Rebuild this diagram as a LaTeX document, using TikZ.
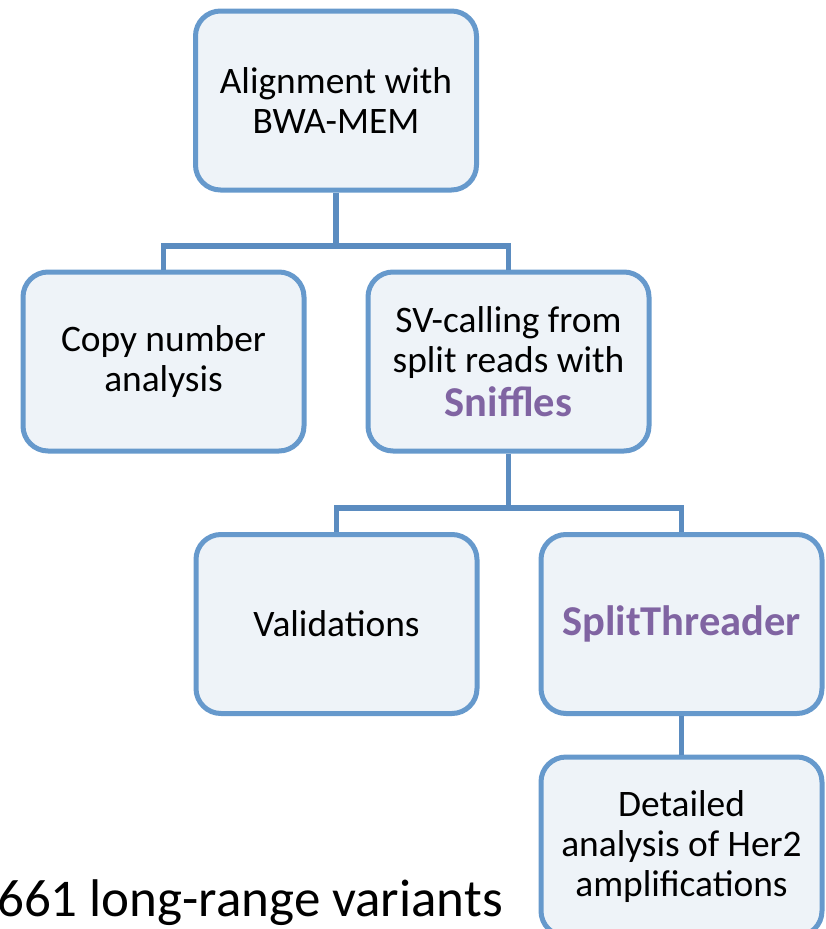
\documentclass[tikz,border=0pt]{standalone}
\usepackage{fontspec}
\setmainfont{Carlito}
\definecolor{boxborder}{HTML}{6699CC}
\definecolor{boxfill}{HTML}{EEF3F8}
\definecolor{connblue}{HTML}{5B8CC0}
\definecolor{toolpurple}{HTML}{8064A2}
\begin{document}
\begin{tikzpicture}[x=1pt,y=-1pt,
  flowbox/.style={draw=boxborder, fill=boxfill, line width=5pt, rounded corners=25pt,
    minimum width=281pt, minimum height=179pt, align=center, inner sep=0pt,
    font=\fontsize{37.4}{40}\selectfont, text=black},
  conn/.style={draw=connblue, line width=5.5pt, line join=miter}]
\useasboundingbox (0,0) rectangle (825,929);
\begin{scope}
\clip (0,0) rectangle (825,929);
\node[flowbox] (A) at (336,100.5) {Alignment with\\BWA-MEM};
\node[flowbox] (B) at (163.5,361.5) {Copy number\\analysis};
\node[flowbox] (C) at (508.5,361.5) {SV-calling from\\split reads with\\[4pt]{\fontsize{42.5}{44}\selectfont\bfseries\color{toolpurple}Sniffles}};
\node[flowbox] (D) at (336.5,624) {Validations};
\node[flowbox] (E) at (681.5,624) {{\fontsize{42.5}{44}\selectfont\bfseries\color{toolpurple}SplitThreader}};
\node[flowbox] (F) at (681.5,846.5) {Detailed\\analysis of Her2\\amplifications};
\coordinate (j1) at (336,246);
\coordinate (j2) at (508.5,508);
\draw[conn] (A.south) -- (j1);
\draw[conn] (B.north) |- (j1) -| (C.north);
\draw[conn] (C.south) -- (j2);
\draw[conn] (D.north) |- (j2) -| (E.north);
\draw[conn] (E.south) -- (F.north);
\node[anchor=base east, inner sep=0pt, font=\fontsize{53}{55}\selectfont] (T) at (503,916) {661 long-range variants};
\end{scope}
\end{tikzpicture}
\end{document}
